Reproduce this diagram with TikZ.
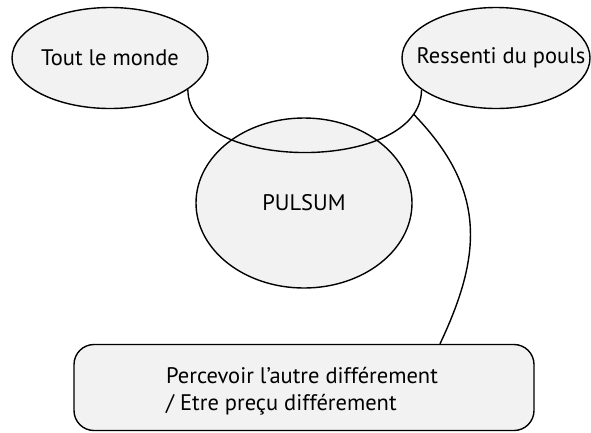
\documentclass[tikz,border=0pt]{standalone}
\usepackage{fontspec}
\setmainfont{PT Sans}
\usetikzlibrary{shapes.geometric}
\definecolor{fillgray}{HTML}{F2F2F2}
\begin{document}
\begin{tikzpicture}[x=1pt,y=-1pt,
  bubble/.style={ellipse, draw=black, line width=1.4pt, fill=fillgray, inner sep=0pt,
    font=\fontsize{22.5}{27}\selectfont},
  boxnode/.style={draw=black, line width=1.4pt, fill=fillgray, rounded corners=20pt,
    minimum width=460pt, minimum height=86pt, inner sep=0pt},
  boxlabel/.style={font=\fontsize{22.5}{27}\selectfont, align=left, anchor=base west, inner sep=0pt},
  link/.style={draw=black, line width=1.4pt}]
\useasboundingbox (0,0) rectangle (591,432);
\node[bubble, minimum width=196pt, minimum height=101pt] (tout) at (110,58) {\makebox[0pt]{Tout le monde}};
\node[bubble, minimum width=188pt, minimum height=101pt] (ress) at (496,58) {\makebox[0pt]{\hspace*{10pt}Ressenti du pouls}};
\node[bubble, minimum width=216pt, minimum height=170pt] (pulsum) at (304,203) {\makebox[0pt]{PULSUM}};
\node[boxnode] (box) at (304,387.5) {};
\node[boxlabel] (boxtext) at (166,410)
  {Percevoir l’autre différement\\/ Etre preçu différement};
\draw[link] (tout.-22.6) .. controls +(0,84) and +(0,84) .. coordinate[pos=0.89] (j) (ress.-157);
\draw[link] (j) .. controls (487,190) and (482,255) .. (box.north -| 440,0);
\end{tikzpicture}
\end{document}
